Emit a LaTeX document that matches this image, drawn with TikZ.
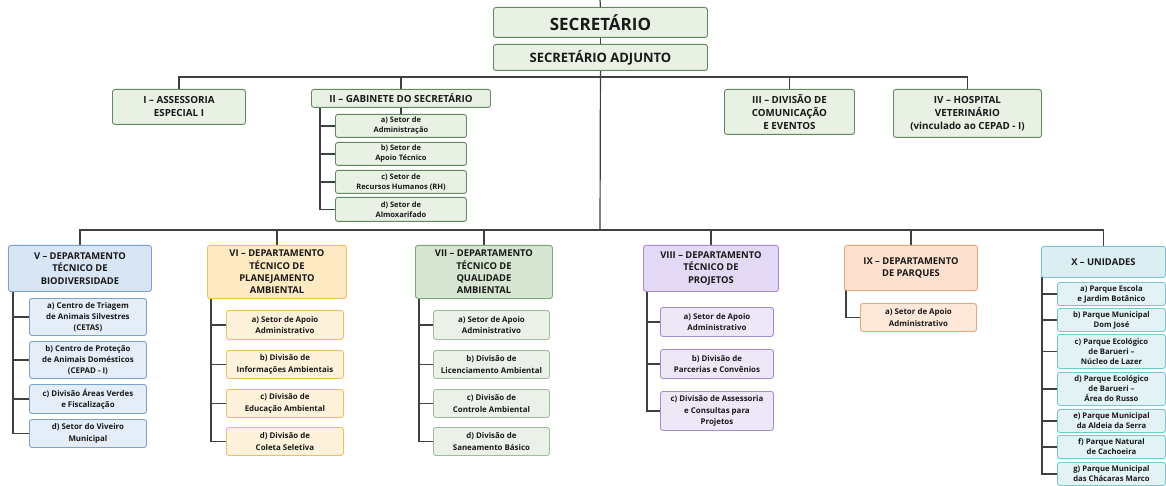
\documentclass[tikz,border=0pt]{standalone}
\usepackage{fontspec}
\setmainfont{Open Sans}
\usetikzlibrary{backgrounds}
\definecolor{linec}{HTML}{404040}
\definecolor{gT}{HTML}{E9F0E4}
\definecolor{gTd}{HTML}{62895D}
\definecolor{bH}{HTML}{D8E5F5}
\definecolor{bC}{HTML}{E4EDF8}
\definecolor{bD}{HTML}{7BA0D6}
\definecolor{oH}{HTML}{FDE9C2}
\definecolor{oC}{HTML}{FEF2DA}
\definecolor{oD}{HTML}{F2BE60}
\definecolor{vH}{HTML}{D6E5D1}
\definecolor{vC}{HTML}{EBF1E8}
\definecolor{vD}{HTML}{7DA678}
\definecolor{vDc}{HTML}{A0BC9C}
\definecolor{pH}{HTML}{E3D9F4}
\definecolor{pC}{HTML}{EDE7F8}
\definecolor{pD}{HTML}{A48CD6}
\definecolor{sH}{HTML}{FCE1CF}
\definecolor{sC}{HTML}{FDE8DA}
\definecolor{sD}{HTML}{EFA274}
\definecolor{tH}{HTML}{DBEFF2}
\definecolor{tC}{HTML}{E3F3F5}
\definecolor{tD}{HTML}{7CC5CF}
\begin{document}
\begin{tikzpicture}[x=1pt,y=-1pt,
  box/.style={anchor=north west, align=center, inner sep=0pt, rounded corners=2.5pt, line width=0.9pt, text=black!90},
  conn/.style={draw=linec, line width=1.2pt},
  gtop/.style={box, draw=gTd, fill=gT},
  bhead/.style={box, draw=bD, fill=bH}, bchild/.style={box, draw=bD, fill=bC},
  ohead/.style={box, draw=oD, fill=oH}, ochild/.style={box, draw=oD, fill=oC},
  vhead/.style={box, draw=vD, fill=vH}, vchild/.style={box, draw=vDc, fill=vC},
  phead/.style={box, draw=pD, fill=pH}, pchild/.style={box, draw=pD, fill=pC},
  shead/.style={box, draw=sD, fill=sH}, schild/.style={box, draw=sD, fill=sC},
  thead/.style={box, draw=tD, fill=tH}, tchild/.style={box, draw=tD, fill=tC},
  topfont/.style={font=\fontsize{9.8}{13}\selectfont\bfseries},
  hfont/.style={font=\fontsize{9.4}{12.3}\selectfont\bfseries},
  cfont/.style={font=\fontsize{7.9}{11.2}\selectfont\bfseries},
  gfont/.style={font=\fontsize{7.5}{9.8}\selectfont\bfseries},
  xfont/.style={font=\fontsize{7.7}{10}\selectfont\bfseries},
]
\useasboundingbox (0,0) rectangle (1166,486);

% top
\node[gtop, minimum width=214, minimum height=30, font=\fontsize{17}{19}\selectfont\bfseries] (sec) at (493,7) {SECRETÁRIO};
\node[gtop, minimum width=214, minimum height=26, font=\fontsize{13}{15}\selectfont\bfseries] (adj) at (493,44) {SECRETÁRIO ADJUNTO};

\node[gtop, topfont, minimum width=133, minimum height=35] (asI) at (112,89) {I – ASSESSORIA\\ESPECIAL I};
\node[gtop, topfont, minimum width=179, minimum height=18] (gab) at (311,89) {II – GABINETE DO SECRETÁRIO};
\node[gtop, gfont, minimum width=131, minimum height=23] (ga) at (335,114) {a) Setor de\\Administração};
\node[gtop, gfont, minimum width=131, minimum height=23] (gb) at (335,142) {b) Setor de\\Apoio Técnico};
\node[gtop, gfont, minimum width=131, minimum height=23] (gc) at (335,170) {c) Setor de\\Recursos Humanos (RH)};
\node[gtop, gfont, minimum width=131, minimum height=24] (gd) at (335,197) {d) Setor de\\Almoxarifado};
\node[gtop, topfont, minimum width=130, minimum height=45] (com) at (724,89) {III – DIVISÃO DE\\COMUNICAÇÃO\\E EVENTOS};
\node[gtop, topfont, minimum width=148, minimum height=48] (hos) at (893,89) {IV – HOSPITAL\\VETERINÁRIO\\(vinculado ao CEPAD - I)};

% V
\node[bhead, hfont, minimum width=143, minimum height=46] (dV) at (8,245) {V – DEPARTAMENTO\\TÉCNICO DE\\BIODIVERSIDADE};
\node[bchild, cfont, minimum width=117, minimum height=37] (Va) at (29,298) {a) Centro de Triagem\\de Animais Silvestres\\(CETAS)};
\node[bchild, cfont, minimum width=117, minimum height=37] (Vb) at (29,341) {b) Centro de Proteção\\de Animais Domésticos\\(CEPAD - I)};
\node[bchild, cfont, minimum width=117, minimum height=29] (Vc) at (29,384) {c) Divisão Áreas Verdes\\e Fiscalização};
\node[bchild, cfont, minimum width=117, minimum height=28] (Vd) at (29,419) {d) Setor do Viveiro\\Municipal};
\coordinate (vV) at (13,291);

% VI
\node[ohead, hfont, minimum width=139, minimum height=53] (dVI) at (207,245) {VI – DEPARTAMENTO\\TÉCNICO DE\\PLANEJAMENTO\\AMBIENTAL};
\node[ochild, cfont, minimum width=117, minimum height=29] (VIa) at (226,310) {a) Setor de Apoio\\Administrativo};
\node[ochild, cfont, minimum width=117, minimum height=28] (VIb) at (226,350) {b) Divisão de\\Informações Ambientais};
\node[ochild, cfont, minimum width=117, minimum height=28] (VIc) at (226,389) {c) Divisão de\\Educação Ambiental};
\node[ochild, cfont, minimum width=117, minimum height=28] (VId) at (226,427) {d) Divisão de\\Coleta Seletiva};
\coordinate (vVI) at (211,298);

% VII
\node[vhead, hfont, minimum width=137, minimum height=53] (dVII) at (415,245) {VII – DEPARTAMENTO\\TÉCNICO DE\\QUALIDADE\\AMBIENTAL};
\node[vchild, cfont, minimum width=116, minimum height=29] (VIIa) at (433,310) {a) Setor de Apoio\\Administrativo};
\node[vchild, cfont, minimum width=116, minimum height=28] (VIIb) at (433,350) {b) Divisão de\\Licenciamento Ambiental};
\node[vchild, cfont, minimum width=116, minimum height=28] (VIIc) at (433,389) {c) Divisão de\\Controle Ambiental};
\node[vchild, cfont, minimum width=116, minimum height=28] (VIId) at (433,427) {d) Divisão de\\Saneamento Básico};
\coordinate (vVII) at (419,298);

% VIII
\node[phead, hfont, minimum width=135, minimum height=46] (dVIII) at (643,245) {VIII – DEPARTAMENTO\\TÉCNICO DE\\PROJETOS};
\node[pchild, cfont, minimum width=113, minimum height=29] (VIIIa) at (660,307) {a) Setor de Apoio\\Administrativo};
\node[pchild, cfont, minimum width=113, minimum height=29] (VIIIb) at (660,349) {b) Divisão de\\Parcerias e Convênios};
\node[pchild, cfont, minimum width=113, minimum height=39] (VIIIc) at (660,391) {c) Divisão de Assessoria\\e Consultas para\\Projetos};
\coordinate (vVIII) at (647,291);

% IX
\node[shead, hfont, minimum width=133, minimum height=45] (dIX) at (844,245) {IX – DEPARTAMENTO\\DE PARQUES};
\node[schild, cfont, minimum width=116, minimum height=28] (IXa) at (860,303) {a) Setor de Apoio\\Administrativo};
\coordinate (vIX) at (846,290);

% X
\node[thead, hfont, minimum width=124, minimum height=31] (dX) at (1041,246) {X – UNIDADES};
\node[tchild, xfont, minimum width=108, minimum height=23] (Xa) at (1057,282) {a) Parque Escola\\e Jardim Botânico};
\node[tchild, xfont, minimum width=108, minimum height=23] (Xb) at (1057,308) {b) Parque Municipal\\Dom José};
\node[tchild, xfont, minimum width=108, minimum height=34] (Xc) at (1057,334) {c) Parque Ecológico\\de Barueri –\\Núcleo de Lazer};
\node[tchild, xfont, minimum width=108, minimum height=33] (Xd) at (1057,372) {d) Parque Ecológico\\de Barueri –\\Área do Russo};
\node[tchild, xfont, minimum width=108, minimum height=23] (Xe) at (1057,409) {e) Parque Municipal\\da Aldeia da Serra};
\node[tchild, xfont, minimum width=108, minimum height=23] (Xf) at (1057,435) {f) Parque Natural\\de Cachoeira};
\node[tchild, xfont, minimum width=108, minimum height=23] (Xg) at (1057,462) {g) Parque Municipal\\das Chácaras Marco};
\coordinate (vX) at (1042,277);

\coordinate (t0) at (600,0);
\coordinate (b1) at (600,77);
\coordinate (b2) at (600,230);
\coordinate (gv) at (320,107);

\begin{scope}[on background layer]
\draw[conn] (t0) -- (sec.north);
\draw[conn] (sec.south) -- (adj.north);
\draw[conn] (adj.south) -- (b2);
\draw[conn] (asI.north) |- (b1) -| (hos.north);
\draw[conn] (gab.north) -- (gab.north |- b1);
\draw[conn] (com.north) -- (com.north |- b1);
\draw[conn] (gab.south) -- (ga.north);
\foreach \c in {ga,gb,gc,gd} \draw[conn] (gv) |- (\c.west);
\draw[conn] (dV.north) |- (b2) -| (dX.north);
\foreach \d in {dVI,dVII,dVIII,dIX} \draw[conn] (\d.north) -- (\d.north |- b2);
\foreach \c in {Va,Vb,Vc,Vd} \draw[conn] (vV) |- (\c.west);
\foreach \c in {VIa,VIb,VIc,VId} \draw[conn] (vVI) |- (\c.west);
\foreach \c in {VIIa,VIIb,VIIc,VIId} \draw[conn] (vVII) |- (\c.west);
\foreach \c in {VIIIa,VIIIb,VIIIc} \draw[conn] (vVIII) |- (\c.west);
\draw[conn] (vIX) |- (IXa.west);
\foreach \c in {Xa,Xb,Xc,Xd,Xe,Xf,Xg} \draw[conn] (vX) |- (\c.west);
\end{scope}
\end{tikzpicture}
\end{document}
